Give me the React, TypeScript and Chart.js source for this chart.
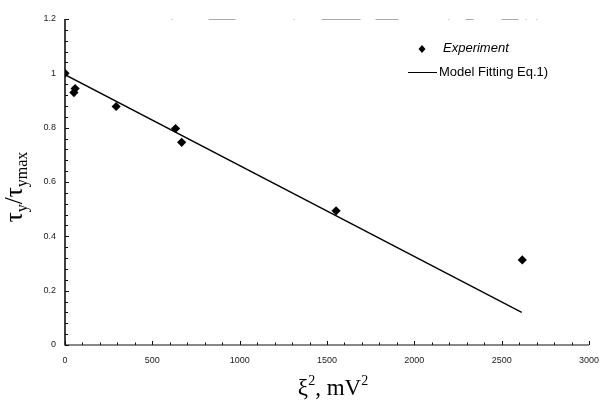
import React, { useEffect, useRef } from "react";
import { Chart, registerables } from "chart.js";

Chart.register(...registerables);

// Experimental data: xi^2 (mV^2) vs tau_y / tau_ymax
const expX = [0, 51, 58, 293, 633, 668, 1552, 2618];
const expY = [1.0, 0.929, 0.944, 0.878, 0.797, 0.746, 0.494, 0.313];

// Model fitting line (Eq.1) endpoints
const fitX = [0, 2615];
const fitY = [0.995, 0.12];

const xTicks = [0, 500, 1000, 1500, 2000, 2500, 3000];
const yTicks = [0, 0.2, 0.4, 0.6, 0.8, 1, 1.2];
const xMinorStep = 100;
const yMinorStep = 0.04;

const legendLabels = ["Experiment", "Model Fitting Eq.1)"];

const SERIF = "'Liberation Serif', 'DejaVu Serif', serif";
const SANS = "'Liberation Sans', Arial, sans-serif";

const decorPlugin = {
  id: "decor",
  afterDraw(chart: any) {
    const ctx = chart.ctx as CanvasRenderingContext2D;
    const xs = chart.scales.x;
    const ys = chart.scales.y;
    const x0 = xs.getPixelForValue(0);
    const x1 = xs.getPixelForValue(3000);
    const y0 = ys.getPixelForValue(0);
    const y1 = ys.getPixelForValue(1.2);
    ctx.save();
    ctx.strokeStyle = "#111";
    // y axis
    ctx.lineWidth = 1.6;
    ctx.beginPath();
    ctx.moveTo(x0, y0 + 0.5);
    ctx.lineTo(x0, y1);
    ctx.stroke();
    // x axis
    ctx.lineWidth = 1.1;
    ctx.beginPath();
    ctx.moveTo(x0, y0);
    ctx.lineTo(x1, y0);
    ctx.stroke();
    // y ticks (inward)
    ctx.lineWidth = 1;
    for (let v = 0; v <= 1.2001; v += yMinorStep) {
      const p = Math.round(ys.getPixelForValue(v)) + 0.5;
      ctx.beginPath();
      ctx.moveTo(x0, p);
      ctx.lineTo(x0 + 3, p);
      ctx.stroke();
    }
    for (const v of yTicks) {
      const p = Math.round(ys.getPixelForValue(v)) + 0.5;
      ctx.beginPath();
      ctx.moveTo(x0, p);
      ctx.lineTo(x0 + 4, p);
      ctx.stroke();
    }
    // x ticks (inward)
    for (let v = 0; v <= 3000.01; v += xMinorStep) {
      const p = Math.round(xs.getPixelForValue(v)) + 0.5;
      ctx.beginPath();
      ctx.moveTo(p, y0);
      ctx.lineTo(p, y0 - 2.5);
      ctx.stroke();
    }
    for (const v of xTicks) {
      const p = Math.round(xs.getPixelForValue(v)) + 0.5;
      ctx.beginPath();
      ctx.moveTo(p, y0);
      ctx.lineTo(p, y0 - 4);
      ctx.stroke();
    }
    // faint broken top frame
    ctx.strokeStyle = "#aaa";
    ctx.lineWidth = 1;
    ctx.setLineDash([1, 36, 27, 58, 1, 27, 39, 15, 23, 50, 1, 16, 8, 28, 17, 7, 1, 10, 1, 60]);
    ctx.beginPath();
    ctx.moveTo(xs.getPixelForValue(610), Math.round(y1) + 0.5);
    ctx.lineTo(x1, Math.round(y1) + 0.5);
    ctx.stroke();
    ctx.setLineDash([]);

    // Legend
    ctx.fillStyle = "#000";
    ctx.strokeStyle = "#000";
    const lx = 422;
    ctx.beginPath();
    ctx.moveTo(lx, 45);
    ctx.lineTo(lx + 3.5, 49);
    ctx.lineTo(lx, 53);
    ctx.lineTo(lx - 3.5, 49);
    ctx.closePath();
    ctx.fill();
    ctx.font = `italic 13px ${SANS}`;
    ctx.textBaseline = "middle";
    ctx.textAlign = "left";
    ctx.fillText(legendLabels[0], 443, 48);
    ctx.lineWidth = 1;
    ctx.beginPath();
    ctx.moveTo(408, 72.5);
    ctx.lineTo(437, 72.5);
    ctx.stroke();
    ctx.font = `13px ${SANS}`;
    ctx.fillText(legendLabels[1], 439, 72);

    // X axis title: ξ², mV²
    ctx.textBaseline = "alphabetic";
    const bigX = 23;
    const supX = 14;
    const xParts: [string, number, number][] = [
      ["ξ", bigX, 0],
      ["2", supX, -10],
      [", m", bigX, 0],
      ["V", bigX, 0],
      ["2", supX, -10],
    ];
    let tw = 0;
    for (const [t, s] of xParts) {
      ctx.font = `${s}px ${SERIF}`;
      tw += ctx.measureText(t).width;
    }
    let cx = 333 - tw / 2;
    for (const [t, s, dy] of xParts) {
      ctx.font = `${s}px ${SERIF}`;
      ctx.fillText(t, cx, 395 + dy);
      cx += ctx.measureText(t).width;
    }

    // Y axis title: τy/τymax
    ctx.translate(22, 187);
    ctx.rotate(-Math.PI / 2);
    const big = 25;
    const sub = 16;
    const yParts: [string, number, number][] = [
      ["τ", big, 0],
      ["y", sub, 5],
      ["/", big, 0],
      ["τ", big, 0],
      ["ymax", sub, 5],
    ];
    tw = 0;
    for (const [t, s] of yParts) {
      ctx.font = `${s}px ${SERIF}`;
      tw += ctx.measureText(t).width;
    }
    cx = -tw / 2;
    for (const [t, s, dy] of yParts) {
      ctx.font = `${s}px ${SERIF}`;
      ctx.fillText(t, cx, dy);
      cx += ctx.measureText(t).width;
    }
    ctx.restore();
  },
};

export default function App() {
  const ref = useRef<HTMLCanvasElement | null>(null);
  useEffect(() => {
    if (!ref.current) return;
    const chart = new Chart(ref.current, {
      type: "scatter",
      data: {
        datasets: [
          {
            label: legendLabels[0],
            data: expX.map((x, i) => ({ x, y: expY[i] })),
            pointStyle: "rectRot",
            pointRadius: 4.6,
            backgroundColor: "#000",
            borderColor: "#000",
            borderWidth: 0,
            showLine: false,
          },
          {
            label: legendLabels[1],
            data: fitX.map((x, i) => ({ x, y: fitY[i] })),
            showLine: true,
            pointRadius: 0,
            borderColor: "#000",
            borderWidth: 1.3,
            backgroundColor: "#000",
          },
        ],
      },
      options: {
        animation: false,
        responsive: false,
        maintainAspectRatio: false,
        layout: { padding: { top: 19, right: 11, left: 0, bottom: 0 } },
        plugins: { legend: { display: false }, tooltip: { enabled: false } },
        scales: {
          x: {
            type: "linear",
            min: 0,
            max: 3000,
            afterFit: (s: any) => {
              s.height = 56;
            },
            afterBuildTicks: (s: any) => {
              s.ticks = xTicks.map((v) => ({ value: v }));
            },
            grid: { display: false, drawTicks: false },
            border: { display: false },
            ticks: {
              padding: 10,
              color: "#222",
              font: { size: 9, family: "'Liberation Sans', Arial, sans-serif" },
              maxRotation: 0,
              callback: (v: any) => String(Number(v)),
            },
          },
          y: {
            type: "linear",
            min: 0,
            max: 1.2,
            afterFit: (s: any) => {
              s.width = 65;
            },
            afterBuildTicks: (s: any) => {
              s.ticks = yTicks.map((v) => ({ value: v }));
            },
            grid: { display: false, drawTicks: false },
            border: { display: false },
            ticks: {
              padding: 9,
              color: "#222",
              font: { size: 9, family: "'Liberation Sans', Arial, sans-serif" },
              callback: (v: any) => String(Math.round(Number(v) * 10) / 10),
            },
          },
        },
      },
      plugins: [decorPlugin],
    });
    return () => chart.destroy();
  }, []);
  return (
    <div style={{ position: "fixed", left: 0, top: 0, width: 609, height: 401, background: "#fff" }}>
      <canvas ref={ref} width={609} height={401} style={{ display: "block", width: 609, height: 401 }} />
    </div>
  );
}
